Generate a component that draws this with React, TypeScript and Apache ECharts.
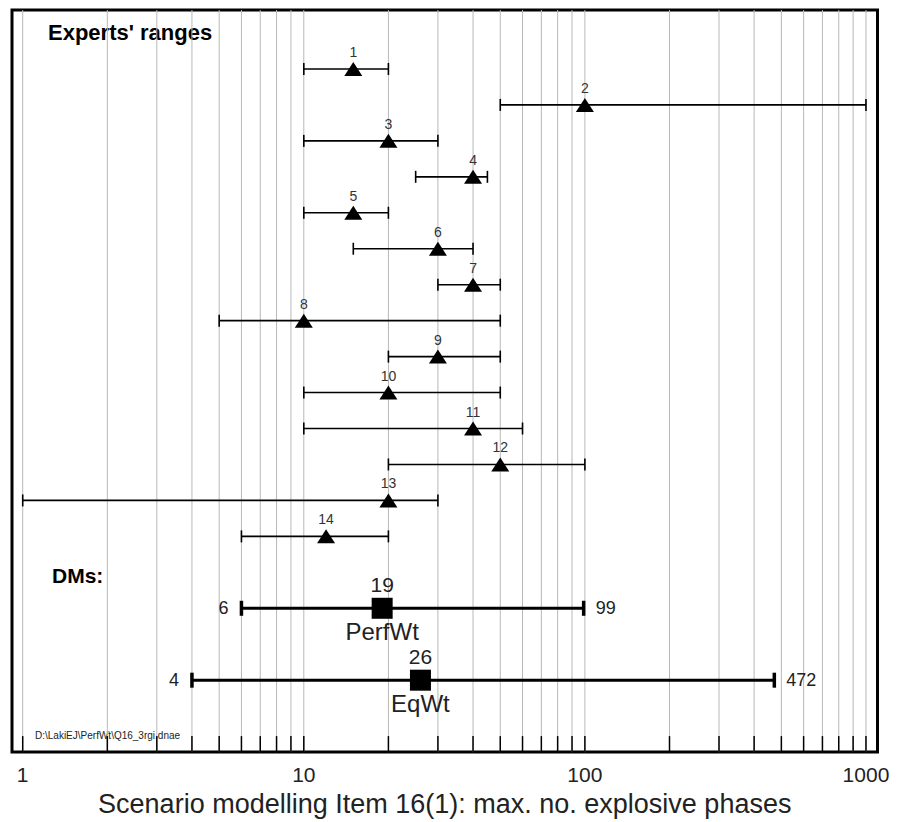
import React, { useEffect, useRef } from "react";
import * as echarts from "echarts";

const expertIds = [1, 2, 3, 4, 5, 6, 7, 8, 9, 10, 11, 12, 13, 14];
const expertLow = [10, 50, 10, 25, 10, 15, 30, 5, 20, 10, 10, 20, 1, 6];
const expertMedian = [15, 100, 20, 40, 15, 30, 40, 10, 30, 20, 40, 50, 20, 12];
const expertHigh = [20, 1000, 30, 45, 20, 40, 50, 50, 50, 50, 60, 100, 30, 20];
const expertRows = [1, 2, 3, 4, 5, 6, 7, 8, 9, 10, 11, 12, 13, 14];

const dmNames = ["PerfWt", "EqWt"];
const dmLow = [6, 4];
const dmMedian = [19, 26];
const dmHigh = [99, 472];
const dmRows = [16, 18];

const gridValues = [
  1, 2, 3, 4, 5, 6, 7, 8, 9,
  10, 20, 30, 40, 50, 60, 70, 80, 90,
  100, 200, 300, 400, 500, 600, 700, 800, 900,
  1000,
];

const FONT = "'Liberation Sans', Arial, Helvetica, sans-serif";

export default function App() {
  const ref = useRef<HTMLDivElement>(null);

  useEffect(() => {
    if (!ref.current) return;
    const chart = echarts.init(ref.current, null, { renderer: "svg" });

    const option: any = {
      animation: false,
      backgroundColor: "#ffffff",
      grid: {
        left: 12,
        right: 22.5,
        top: 10,
        bottom: 69.3,
        show: true,
        borderColor: "#000",
        borderWidth: 3,
        backgroundColor: "transparent",
      },
      xAxis: {
        type: "log",
        logBase: 10,
        min: 0.916,
        max: 1099,
        axisLine: { show: false },
        axisTick: { show: false },
        splitLine: { show: false },
        axisLabel: {
          margin: 12,
          fontSize: 21,
          color: "#222",
          fontFamily: FONT,
          formatter: (v: number) => {
            const l = Math.log10(v);
            return Math.abs(l - Math.round(l)) < 1e-6 ? String(Math.round(v)) : "";
          },
        },
        name: "Scenario modelling Item 16(1): max. no. explosive phases",
        nameLocation: "middle",
        nameGap: 37,
        nameTextStyle: { fontSize: 27, color: "#222", fontFamily: FONT },
      },
      yAxis: {
        type: "value",
        inverse: true,
        min: -0.64,
        max: 20,
        show: false,
        splitLine: { show: false },
      },
      graphic: [
        {
          type: "text",
          left: 48,
          top: 21,
          style: {
            text: "Experts' ranges",
            font: `bold 22px ${FONT}`,
            fill: "#000",
          },
        },
        {
          type: "text",
          left: 52,
          top: 565,
          style: {
            text: "DMs:",
            font: `bold 21px ${FONT}`,
            fill: "#000",
          },
        },
        {
          type: "text",
          left: 35,
          top: 730,
          style: {
            text: "D:\\LakiEJ\\PerfWt\\Q16_3rgi.dnae",
            font: `10px ${FONT}`,
            fill: "#222",
          },
        },
      ],
      series: [
        {
          type: "custom",
          name: "grid",
          silent: true,
          z: 1,
          encode: { x: 0, y: 1 },
          data: gridValues.map((v) => [v, 0]),
          renderItem: (params: any, api: any) => {
            const x = api.coord([api.value(0), 0])[0];
            const cs = params.coordSys;
            const yb = cs.y + cs.height;
            return {
              type: "group",
              children: [
                {
                  type: "line",
                  shape: { x1: x, y1: cs.y, x2: x, y2: yb },
                  style: { stroke: "#b8b8b8", lineWidth: 1 },
                },
                {
                  type: "line",
                  shape: { x1: x, y1: yb - 16, x2: x, y2: yb },
                  style: { stroke: "#000", lineWidth: 1.5 },
                },
              ],
            };
          },
        },
        {
          type: "custom",
          name: "expert ranges",
          silent: true,
          z: 3,
          encode: { x: [0, 1], y: 2 },
          data: expertIds.map((_, i) => [expertLow[i], expertHigh[i], expertRows[i]]),
          renderItem: (params: any, api: any) => {
            const p1 = api.coord([api.value(0), api.value(2)]);
            const p2 = api.coord([api.value(1), api.value(2)]);
            const h = 6;
            const st = { stroke: "#000", lineWidth: 1.6 };
            return {
              type: "group",
              children: [
                { type: "line", shape: { x1: p1[0], y1: p1[1], x2: p2[0], y2: p2[1] }, style: st },
                { type: "line", shape: { x1: p1[0], y1: p1[1] - h, x2: p1[0], y2: p1[1] + h }, style: st },
                { type: "line", shape: { x1: p2[0], y1: p2[1] - h, x2: p2[0], y2: p2[1] + h }, style: st },
              ],
            };
          },
        },
        {
          type: "scatter",
          name: "expert medians",
          z: 4,
          symbol: "triangle",
          symbolSize: [18, 14],
          itemStyle: { color: "#000", opacity: 1 },
          data: expertIds.map((id, i) => [expertMedian[i], expertRows[i], id]),
          label: {
            show: true,
            position: "top",
            distance: 3,
            fontSize: 14,
            color: "#333",
            fontFamily: FONT,
            formatter: (p: any) => String(p.value[2]),
          },
        },
        {
          type: "custom",
          name: "DM ranges",
          silent: true,
          z: 3,
          encode: { x: [0, 1, 2], y: 3 },
          data: dmNames.map((n, i) => [dmLow[i], dmMedian[i], dmHigh[i], dmRows[i], n]),
          renderItem: (params: any, api: any) => {
            const i = params.dataIndex;
            const row = api.value(3);
            const p1 = api.coord([api.value(0), row]);
            const pm = api.coord([api.value(1), row]);
            const p2 = api.coord([api.value(2), row]);
            const h = 7.5;
            const st = { stroke: "#000", lineWidth: 3 };
            const capSt = { stroke: "#000", lineWidth: 3.5 };
            return {
              type: "group",
              children: [
                { type: "line", shape: { x1: p1[0], y1: p1[1], x2: p2[0], y2: p2[1] }, style: st },
                { type: "line", shape: { x1: p1[0], y1: p1[1] - h, x2: p1[0], y2: p1[1] + h }, style: capSt },
                { type: "line", shape: { x1: p2[0], y1: p2[1] - h, x2: p2[0], y2: p2[1] + h }, style: capSt },
                {
                  type: "text",
                  x: p1[0] - 13,
                  y: p1[1],
                  style: {
                    text: String(dmLow[i]),
                    align: "right",
                    verticalAlign: "middle",
                    font: `18px ${FONT}`,
                    fill: "#222",
                  },
                },
                {
                  type: "text",
                  x: p2[0] + 12,
                  y: p2[1],
                  style: {
                    text: String(dmHigh[i]),
                    align: "left",
                    verticalAlign: "middle",
                    font: `18px ${FONT}`,
                    fill: "#222",
                  },
                },
                {
                  type: "text",
                  x: pm[0],
                  y: pm[1] + 11,
                  style: {
                    text: dmNames[i],
                    align: "center",
                    verticalAlign: "top",
                    font: `24px ${FONT}`,
                    fill: "#222",
                  },
                },
              ],
            };
          },
        },
        {
          type: "scatter",
          name: "DM medians",
          z: 4,
          symbol: "rect",
          symbolSize: 21,
          itemStyle: { color: "#000", opacity: 1 },
          data: dmNames.map((_, i) => [dmMedian[i], dmRows[i]]),
          label: {
            show: true,
            position: "top",
            distance: 3,
            fontSize: 21,
            color: "#222",
            fontFamily: FONT,
            formatter: (p: any) => String(p.value[0]),
          },
        },
      ],
    };

    chart.setOption(option);
    return () => chart.dispose();
  }, []);

  return (
    <div
      ref={ref}
      style={{ position: "fixed", left: 0, top: 0, width: 900, height: 822, background: "#fff" }}
    />
  );
}
